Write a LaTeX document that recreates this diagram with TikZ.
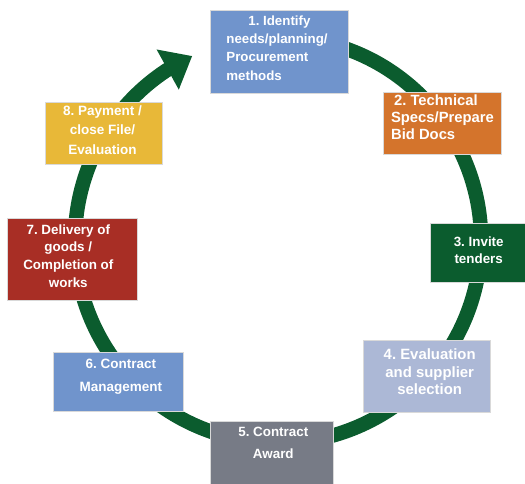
\documentclass[tikz,border=0pt]{standalone}
\usepackage{fontspec}
\setmainfont{Liberation Sans}
\usetikzlibrary{arrows.meta,bending}
\definecolor{ringgreen}{HTML}{0B5C2E}
\definecolor{cblue}{HTML}{7094CC}
\definecolor{corange}{HTML}{D4742C}
\definecolor{cgreen}{HTML}{0B5C2E}
\definecolor{clav}{HTML}{ACB8D6}
\definecolor{cgray}{HTML}{777B86}
\definecolor{cred}{HTML}{A82E25}
\definecolor{cyellow}{HTML}{E8B838}
\frenchspacing
\begin{document}
\begin{tikzpicture}[x=1pt,y=1pt,
  stagebox/.style={rectangle, draw=white!85!black, line width=0.6pt, inner sep=0pt},
  stagetext/.style={text=white, inner sep=0pt, align=center, font=\bfseries\fontsize{13.4}{17.5}\selectfont},
  ring/.style={draw=ringgreen, line width=14.5pt}
]
\useasboundingbox (0,0) rectangle (525,-483);
% ring with arrow
\coordinate (c) at (278,-240);
\draw[ring, -{Triangle[width=44pt,length=28pt]}] ([shift={(75:203)}]c) arc[start angle=75, end angle=-245, radius=203];
% boxes
\node[stagebox, fill=cblue, minimum width=138pt, minimum height=83pt] (b1) at (279,-51.5) {};
\node[stagebox, fill=corange, minimum width=118pt, minimum height=62pt] (b2) at (442,-123) {};
\node[stagebox, fill=cgreen, minimum width=96pt, minimum height=59pt] (b3) at (478,-252.5) {};
\node[stagebox, fill=clav, minimum width=127pt, minimum height=72pt] (b4) at (426.5,-376) {};
\node[stagebox, fill=cgray, minimum width=123pt, minimum height=70pt] (b5) at (271.5,-456) {};
\node[stagebox, fill=cblue, minimum width=130pt, minimum height=59pt] (b6) at (118,-381.5) {};
\node[stagebox, fill=cred, minimum width=130pt, minimum height=82pt] (b7) at (72,-259) {};
\node[stagebox, fill=cyellow, minimum width=117pt, minimum height=62pt] (b8) at (103.5,-133) {};
% texts
\node[stagetext, align=left, font=\bfseries\fontsize{13.3}{18.3}\selectfont] (t1) at (277,-47.8) {\hspace*{22pt}1. Identify\\needs/planning/\\Procurement\\methods};
\node[stagetext, align=left, font=\bfseries\fontsize{14.8}{17.2}\selectfont] (t2) at (442.5,-117.5) {\hspace*{3pt}2. Technical\\Specs/Prepare\\Bid Docs};
\node[stagetext, font=\bfseries\fontsize{13.4}{17.3}\selectfont] (t3) at (478.7,-249.9) {3. Invite\\tenders};
\node[stagetext, font=\bfseries\fontsize{14.9}{17.3}\selectfont] (t4) at (429.7,-371.8) {4. Evaluation\\and supplier\\selection};
\node[stagetext, font=\bfseries\fontsize{13.4}{22.7}\selectfont] (t5) at (273.3,-443) {5. Contract\\Award};
\node[stagetext, font=\bfseries\fontsize{13.5}{23}\selectfont] (t6) at (120.8,-376.6) {6. Contract\\Management};
\node[stagetext, font=\bfseries\fontsize{13.4}{17.7}\selectfont] (t7) at (68.3,-256) {7. Delivery of\\goods /\\Completion of\\works};
\node[stagetext, font=\bfseries\fontsize{13.5}{19.5}\selectfont] (t8) at (102.5,-129.7) {8. Payment /\\close File/\\Evaluation};
\end{tikzpicture}
\end{document}
